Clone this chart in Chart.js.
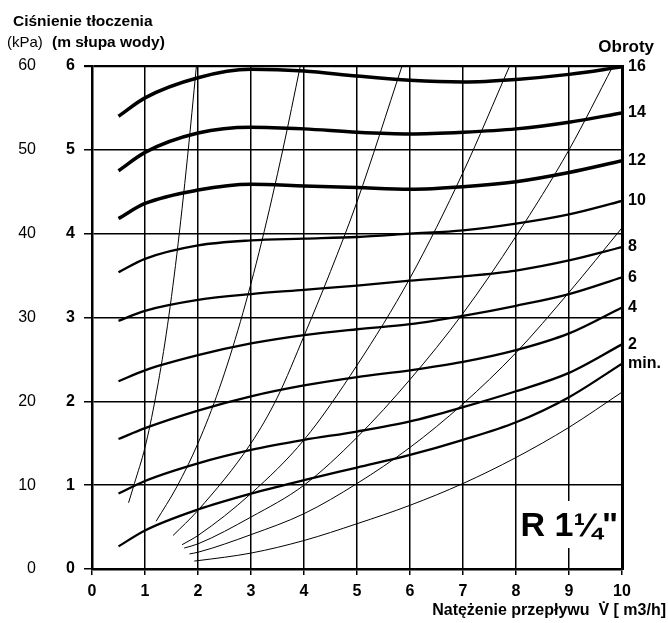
<!DOCTYPE html>
<html lang="pl">
<head>
<meta charset="utf-8">
<title>R 1 1/4 - charakterystyka pompy</title>
<script src="https://cdn.jsdelivr.net/npm/chart.js@4.4.1/dist/chart.umd.min.js"></script>
<style>
  html, body { margin: 0; padding: 0; background: #fff; }
  #wykres { display: block; }
</style>
</head>
<body>
<canvas id="wykres" width="668" height="623"></canvas>
<script>
// natężenie przepływu [m3/h] dla krzywych pompy
const przeplyw = [0.5, 1, 2, 3, 4, 5, 6, 7, 8, 9, 10];

// ciśnienie tłoczenia [m słupa wody] dla kolejnych obrotów
const obroty16 = [5.40, 5.62, 5.86, 5.96, 5.94, 5.88, 5.83, 5.81, 5.84, 5.90, 5.99];
const obroty14 = [4.75, 4.97, 5.20, 5.27, 5.25, 5.21, 5.19, 5.21, 5.25, 5.33, 5.44];
const obroty12 = [4.18, 4.36, 4.52, 4.59, 4.57, 4.55, 4.53, 4.56, 4.62, 4.73, 4.87];
const obroty10 = [3.54, 3.70, 3.86, 3.92, 3.94, 3.96, 4.00, 4.04, 4.12, 4.23, 4.39];
const obroty8 = [2.96, 3.08, 3.21, 3.28, 3.33, 3.38, 3.44, 3.49, 3.56, 3.68, 3.84];
const obroty6 = [2.24, 2.37, 2.55, 2.69, 2.79, 2.86, 2.92, 3.02, 3.14, 3.28, 3.48];
const obroty4 = [1.55, 1.68, 1.89, 2.06, 2.19, 2.29, 2.37, 2.47, 2.61, 2.81, 3.12];
const obroty2 = [0.90, 1.05, 1.26, 1.42, 1.54, 1.64, 1.76, 1.93, 2.12, 2.34, 2.68];
const obrotyMin = [0.27, 0.46, 0.71, 0.90, 1.06, 1.21, 1.36, 1.54, 1.75, 2.05, 2.45];

const etykietyObrotow = ['16', '14', '12', '10', '8', '6', '4', '2', 'min.'];

// charakterystyki instalacji (cienkie linie): przepływ i ciśnienie
const instalacjaA_q = [0.69, 0.80, 1.00, 1.20, 1.40, 1.60, 1.80, 1.97];
const instalacjaA_h = [0.79, 1.02, 1.45, 2.05, 2.80, 3.75, 4.90, 6.00];
const instalacjaB_q = [1.21, 1.60, 2.00, 2.40, 2.80, 3.20, 3.60, 3.93];
const instalacjaB_h = [0.57, 0.98, 1.50, 2.15, 2.95, 3.90, 5.00, 6.00];
const instalacjaC_q = [1.53, 2.00, 3.00, 3.50, 4.00, 4.50, 5.00, 5.85];
const instalacjaC_h = [0.40, 0.70, 1.50, 2.05, 2.78, 3.55, 4.38, 6.00];
const instalacjaD_q = [1.70, 2.00, 3.00, 4.00, 5.00, 6.00, 7.00, 7.88];
const instalacjaD_h = [0.29, 0.40, 0.90, 1.54, 2.43, 3.47, 4.73, 6.00];
const instalacjaE_q = [1.74, 2.00, 3.00, 4.00, 5.00, 6.00, 7.00, 8.00, 9.00, 9.83];
const instalacjaE_h = [0.25, 0.30, 0.62, 1.00, 1.57, 2.26, 3.05, 3.97, 5.00, 6.00];
const instalacjaF_q = [1.84, 2.00, 3.00, 4.00, 5.00, 6.00, 7.00, 8.00, 9.00, 10.00];
const instalacjaF_h = [0.18, 0.20, 0.41, 0.66, 1.02, 1.45, 1.97, 2.58, 3.30, 4.07];
const instalacjaG_q = [1.93, 2.00, 3.00, 4.00, 5.00, 6.00, 7.00, 8.00, 9.00, 10.00];
const instalacjaG_h = [0.095, 0.10, 0.19, 0.34, 0.54, 0.76, 1.02, 1.33, 1.69, 2.11];

const czarny = '#000';
const rodzina = '"Liberation Sans", Arial, sans-serif';
const czcionka = (size, weight = 'bold') => ({ family: rodzina, size, weight });

const krzywePompy = [obroty16, obroty14, obroty12, obroty10, obroty8, obroty6, obroty4, obroty2, obrotyMin];
const pozycjeObrotow = krzywePompy.map(k => k[k.length - 1]);
const instalacje = [
    [instalacjaA_q, instalacjaA_h],
    [instalacjaB_q, instalacjaB_h],
    [instalacjaC_q, instalacjaC_h],
    [instalacjaD_q, instalacjaD_h],
    [instalacjaE_q, instalacjaE_h],
    [instalacjaF_q, instalacjaF_h],
    [instalacjaG_q, instalacjaG_h]
];

const linia = (punkty, grubosc) => ({
    data: punkty,
    borderColor: czarny,
    borderWidth: grubosc,
    pointRadius: 0,
    fill: false,
    cubicInterpolationMode: 'monotone'
});

const zestawy = [
    ...krzywePompy.map((wartosci, i) =>
        linia(przeplyw.map((q, j) => ({ x: q, y: wartosci[j] })), i < 3 ? 3.5 : 2.3)),
    ...instalacje.map(([q, h]) =>
        linia(q.map((v, j) => ({ x: v, y: h[j] })), 1))
];

const napisy = {
    id: 'napisy',
    afterDraw(chart) {
        const ctx = chart.ctx;
        ctx.save();
        ctx.fillStyle = czarny;
        ctx.textBaseline = 'middle';
        ctx.textAlign = 'left';

        ctx.font = `bold 15.5px ${rodzina}`;
        ctx.fillText('Ciśnienie tłoczenia', 13, 22);
        ctx.fillText('(m słupa wody)', 52, 43);
        ctx.font = `15px ${rodzina}`;
        ctx.fillText('(kPa)', 7, 43);

        ctx.textAlign = 'right';
        ctx.font = `bold 17px ${rodzina}`;
        ctx.fillText('Obroty', 654, 47);

        ctx.font = `bold 16px ${rodzina}`;
        ctx.fillText('Natężenie przepływu  V\u0307 [ m3/h]', 666, 611);

        // oznaczenie pompy na białym tle
        ctx.fillStyle = '#fff';
        ctx.fillRect(521, 501, 96, 47);
        ctx.fillStyle = czarny;
        ctx.textBaseline = 'alphabetic';
        ctx.font = `bold 34px ${rodzina}`;
        ctx.fillText('R 1\u00BC"', 618, 536);
        ctx.restore();
    }
};

new Chart(document.getElementById('wykres'), {
    type: 'line',
    data: { datasets: zestawy },
    plugins: [napisy],
    options: {
        responsive: false,
        animation: false,
        layout: { padding: { top: 66, left: 0, right: 0, bottom: 0 } },
        plugins: {
            legend: { display: false },
            tooltip: { enabled: false }
        },
        scales: {
            x: {
                type: 'linear',
                position: 'bottom',
                min: 0,
                max: 10,
                ticks: { stepSize: 1, color: czarny, font: czcionka(16), padding: 7 },
                grid: { color: czarny, lineWidth: 1.5, tickLength: 6, tickColor: czarny },
                border: { color: czarny, width: 2.5 },
                afterFit: s => { s.height = 54; }
            },
            y: {
                type: 'linear',
                position: 'left',
                weight: 0,
                min: 0,
                max: 6,
                ticks: { stepSize: 1, color: czarny, font: czcionka(16), padding: 9 },
                grid: {
                    color: czarny,
                    lineWidth: c => (c.tick && c.tick.value === 6 ? 2.2 : 1.5),
                    tickLength: 8,
                    tickColor: czarny
                },
                border: { color: czarny, width: 2.5 },
                afterFit: s => { s.width = 40; }
            },
            yKpa: {
                type: 'linear',
                position: 'left',
                weight: 1,
                min: 0,
                max: 60,
                ticks: { stepSize: 10, color: czarny, font: czcionka(16, 'normal'), padding: 16 },
                grid: { display: false, drawTicks: false },
                border: { display: false },
                afterFit: s => { s.width = 52; }
            },
            yObroty: {
                type: 'linear',
                position: 'right',
                min: 0,
                max: 6,
                afterBuildTicks: s => { s.ticks = pozycjeObrotow.map(v => ({ value: v })); },
                ticks: {
                    autoSkip: false,
                    color: czarny,
                    font: czcionka(16),
                    padding: 6,
                    callback: (v, i) => etykietyObrotow[i]
                },
                grid: { display: false, drawTicks: false },
                border: { color: czarny, width: 3 },
                afterFit: s => { s.width = 46; }
            }
        }
    }
});
</script>
</body>
</html>
